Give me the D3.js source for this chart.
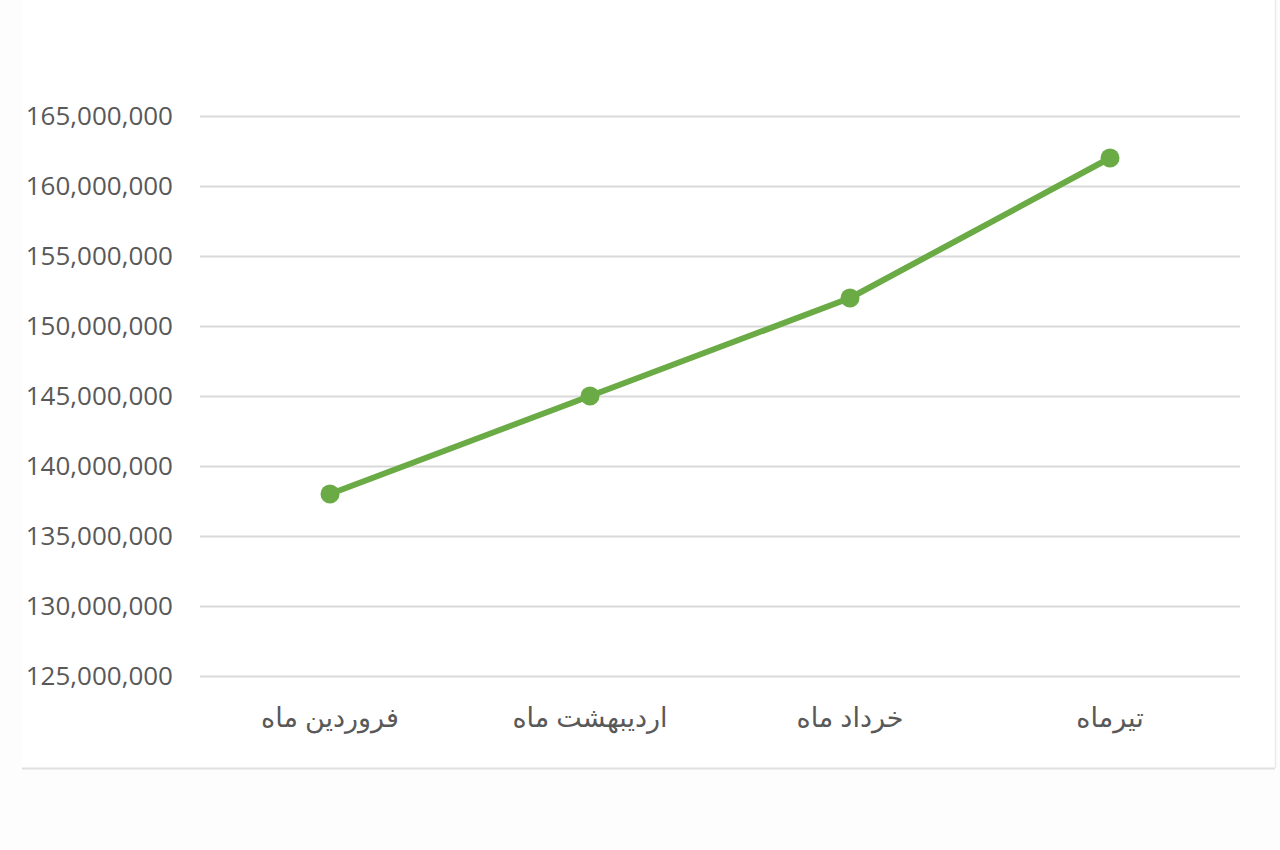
<!DOCTYPE html>
<html>
<head>
<meta charset="utf-8">
<script src="https://cdn.jsdelivr.net/npm/d3@7"></script>
<style>
body { margin: 0; background: #fdfdfd; }
svg { display: block; }
</style>
</head>
<body>
<script>
// chart data
var months = ["فروردین ماه", "اردیبهشت ماه", "خرداد ماه", "تیرماه"];
var sales = [138000000, 145000000, 152000000, 162000000];
var yTicks = [125000000, 130000000, 135000000, 140000000, 145000000, 150000000, 155000000, 160000000, 165000000];

var W = 1280, H = 850;
var plotLeft = 200, plotRight = 1240, plotTop = 116, plotBottom = 676;

var svg = d3.select("body").append("svg")
	.attr("width", W)
	.attr("height", H);

// chart frame
svg.append("rect")
	.attr("x", 22).attr("y", 0)
	.attr("width", 1253).attr("height", 768)
	.style("fill", "#ffffff");
svg.append("line")
	.attr("x1", 22).attr("x2", 1275).attr("y1", 768.5).attr("y2", 768.5)
	.style("stroke", "#e0e0e0").style("stroke-width", 2);
svg.append("line")
	.attr("x1", 1275.5).attr("x2", 1275.5).attr("y1", 0).attr("y2", 768)
	.style("stroke", "#ececec").style("stroke-width", 1.5);

var x = d3.scaleBand().domain(months).range([plotLeft, plotRight]);
var y = d3.scaleLinear().domain([125000000, 165000000]).range([plotBottom, plotTop]);

// gridlines + y labels
var yAxis = d3.axisLeft(y)
	.tickValues(yTicks)
	.tickSize(-(plotRight - plotLeft))
	.tickPadding(27)
	.tickFormat(d3.format(","));

var gy = svg.append("g")
	.attr("transform", "translate(" + plotLeft + ",0)")
	.call(yAxis);
gy.select(".domain").remove();
gy.selectAll(".tick line")
	.style("stroke", "#d9d9d9").style("stroke-width", 2);
gy.selectAll(".tick text")
	.style("font-family", "'Open Sans', 'Noto Sans', sans-serif")
	.style("font-size", "26px")
	.style("fill", "#595959");

// x labels
var xAxis = d3.axisBottom(x).tickSize(0).tickPadding(32);
var gx = svg.append("g")
	.attr("transform", "translate(0," + plotBottom + ")")
	.call(xAxis);
gx.select(".domain").remove();
gx.selectAll(".tick text")
	.attr("direction", "rtl")
	.style("font-family", "'Noto Sans', 'DejaVu Sans', sans-serif")
	.style("font-size", "27px")
	.style("fill", "#595959");

// line
var line = d3.line()
	.x(function(d, i){ return x(months[i]) + x.bandwidth() / 2; })
	.y(function(d){ return y(d); });

svg.append("path")
	.datum(sales)
	.attr("d", line)
	.style("fill", "none")
	.style("stroke", "#6aab45")
	.style("stroke-width", 6)
	.style("stroke-linejoin", "round");

svg.selectAll(".pt")
	.data(sales)
	.enter()
	.append("circle")
	.classed("pt", true)
	.attr("cx", function(d, i){ return x(months[i]) + x.bandwidth() / 2; })
	.attr("cy", function(d){ return y(d); })
	.attr("r", 9.5)
	.style("fill", "#6aab45");
</script>
</body>
</html>
